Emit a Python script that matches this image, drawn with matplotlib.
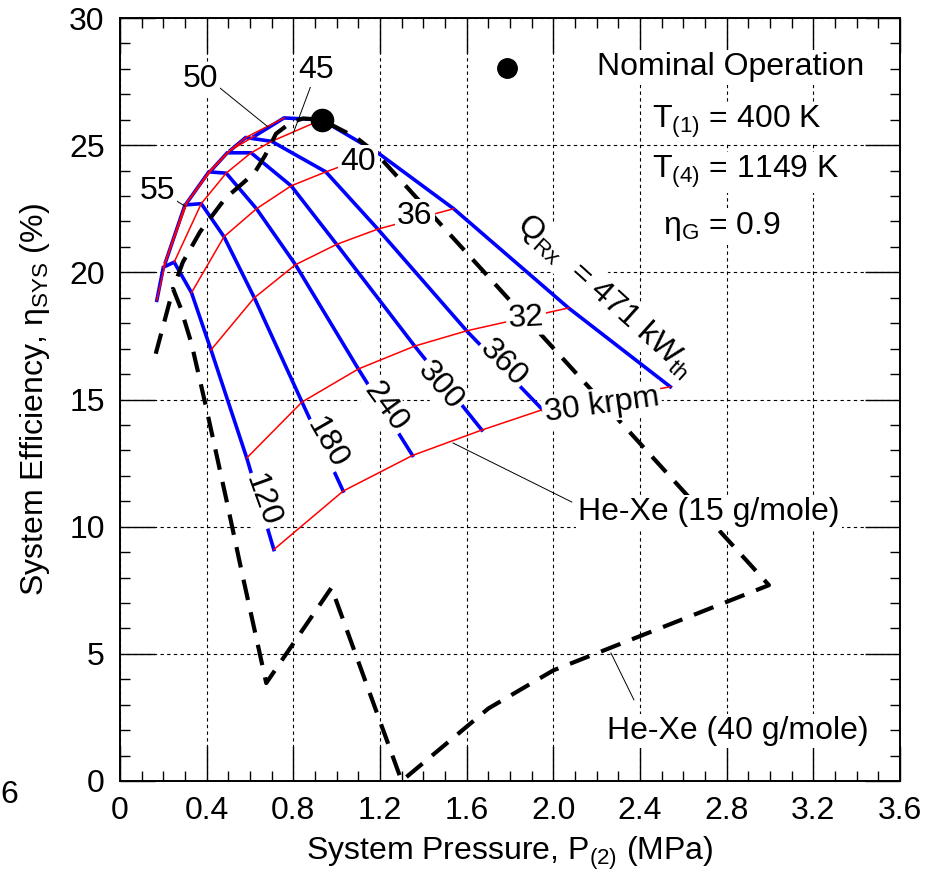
import matplotlib
matplotlib.use("Agg")
import matplotlib.pyplot as plt
from matplotlib.ticker import MultipleLocator, FuncFormatter

plt.rcParams["font.family"] = ["Liberation Sans", "DejaVu Sans"]
plt.rcParams["mathtext.fontset"] = "custom"
plt.rcParams["mathtext.rm"] = "Liberation Sans"
plt.rcParams["mathtext.it"] = "Liberation Sans"
plt.rcParams["mathtext.default"] = "regular"

# He-Xe 15 g/mole carpet: points at shaft speeds 55, 50, 45, 40, 36, 32, 30 krpm
speeds = [55, 50, 45, 40, 36, 32, 30]
powers = [120, 180, 240, 300, 360, 471]

press_120 = [0.17, 0.20, 0.25, 0.33, 0.42, 0.585, 0.71]
eff_120 = [18.9, 20.2, 20.4, 19.2, 16.95, 12.7, 9.1]
press_180 = [0.21, 0.30, 0.375, 0.48, 0.62, 0.84, 1.03]
eff_180 = [20.4, 22.65, 22.7, 21.4, 19.0, 14.9, 11.4]
press_240 = [0.31, 0.41, 0.49, 0.63, 0.81, 1.10, 1.35]
eff_240 = [22.75, 23.95, 23.9, 22.5, 20.3, 16.2, 12.8]
press_300 = [0.42, 0.495, 0.605, 0.79, 1.00, 1.36, 1.67]
eff_300 = [24.0, 24.7, 24.7, 23.4, 21.1, 17.1, 13.8]
press_360 = [0.51, 0.58, 0.70, 0.95, 1.19, 1.60, 1.95]
eff_360 = [24.8, 25.3, 25.15, 23.95, 21.7, 17.7, 14.6]
press_471 = [0.62, 0.757, 0.93, 1.19, 1.54, 2.07, 2.54]
eff_471 = [25.35, 26.07, 26.0, 24.7, 22.5, 18.6, 15.5]

# He-Xe 40 g/mole outline (dashed)
hexe40_press = [0.165, 0.245, 0.28, 0.33, 0.40, 0.49, 0.56, 0.675, 0.976, 1.30,
                1.70, 2.0, 2.995, 1.18, 1.09, 0.93, 0.845, 0.79, 0.72, 0.67,
                0.62, 0.485, 0.37, 0.29, 0.245]
hexe40_eff = [16.8, 19.35, 18.6, 17.2, 14.6, 11.1, 8.3, 3.85, 7.6, 0.0,
              2.85, 4.35, 7.7, 24.7, 25.3, 26.0, 26.05, 25.9, 25.45, 24.6,
              23.9, 22.9, 21.6, 20.4, 19.35]

nominal_point = (0.93, 26.0)
legend_point = (1.786, 28.04)

press_lines = [press_120, press_180, press_240, press_300, press_360, press_471]
eff_lines = [eff_120, eff_180, eff_240, eff_300, eff_360, eff_471]

fig = plt.figure(figsize=(9.34, 8.82), dpi=100)
ax = fig.add_axes([120 / 934, 101 / 882, 780 / 934, 763 / 882])

# blue: constant reactor power
for px, ey in zip(press_lines, eff_lines):
    ax.plot(px, ey, color="#0000ff", lw=2.6, zorder=2, solid_joinstyle="miter")

# red: constant shaft speed
for j in range(len(speeds)):
    xs = [p[j] for p in press_lines]
    ys = [e[j] for e in eff_lines]
    ax.plot(xs, ys, color="#ff0000", lw=1.1, zorder=2.5)

ax.plot(hexe40_press, hexe40_eff, color="black", lw=3, dashes=(5, 3), zorder=3)

ax.plot(*nominal_point, "o", color="black", ms=16, zorder=6)
ax.plot(*legend_point, "o", color="black", ms=14, zorder=6, clip_on=False)

box = dict(facecolor="white", edgecolor="none", pad=1.5)
fs = 23

# power labels along blue lines
ax.text(0.655, 11.05, "120", rotation=-70, ha="center", va="center",
        fontsize=fs, bbox=box, zorder=4)
ax.text(0.955, 13.29, "180", rotation=-60, ha="center", va="center",
        fontsize=fs, bbox=box, zorder=4)
ax.text(1.228, 14.71, "240", rotation=-54, ha="center", va="center",
        fontsize=fs, bbox=box, zorder=4)
ax.text(1.477, 15.53, "300", rotation=-49, ha="center", va="center",
        fontsize=fs, bbox=box, zorder=4)
ax.text(1.767, 16.44, "360", rotation=-45, ha="center", va="center",
        fontsize=fs, bbox=box, zorder=4)
ax.text(2.24, 19.1, r"Q$_{Rx}$  = 471 kW$_{th}$", rotation=-42,
        ha="center", va="center", fontsize=fs, bbox=box, zorder=4)

# speed labels along red lines
ax.text(2.224, 14.78, "30 krpm", rotation=8, ha="center", va="center",
        fontsize=fs, bbox=box, zorder=4)
ax.text(1.874, 18.2, "32", rotation=3, ha="center", va="center",
        fontsize=fs, bbox=box, zorder=4)
ax.text(1.361, 22.2, "36", ha="center", va="center", fontsize=fs,
        bbox=box, zorder=4)
ax.text(1.10, 24.34, "40", ha="center", va="center", fontsize=fs,
        bbox=box, zorder=4)
ax.text(0.905, 27.96, "45", ha="center", va="center", fontsize=fs,
        bbox=box, zorder=4)
ax.text(0.37, 27.6, "50", ha="center", va="center", fontsize=fs,
        bbox=box, zorder=4)
ax.text(0.171, 23.2, "55", ha="center", va="center", fontsize=fs,
        bbox=box, zorder=4)

# leader lines
ax.plot([0.225, 0.30], [23.0, 22.6], color="black", lw=0.7, zorder=3.5)
ax.plot([0.461, 0.683], [27.25, 25.72], color="black", lw=0.7, zorder=3.5)
ax.plot([0.886, 0.80], [27.45, 25.48], color="black", lw=0.7, zorder=3.5)
ax.plot([1.537, 2.085], [13.29, 10.97], color="black", lw=0.7, zorder=3.5)
ax.plot([2.266, 2.372], [5.03, 3.19], color="black", lw=0.7, zorder=3.5)

ax.text(2.113, 10.25, "He-Xe (15 g/mole)", ha="left", va="baseline",
        fontsize=fs, bbox=box, zorder=4)
ax.text(2.247, 1.65, "He-Xe (40 g/mole)", ha="left", va="baseline",
        fontsize=fs, bbox=box, zorder=4)

ax.text(2.20, 27.74, "Nominal Operation", ha="left", va="baseline",
        fontsize=fs, bbox=box, zorder=4)
ax.text(2.454, 25.67, r"T$_{(1)}$ = 400 K", ha="left", va="baseline",
        fontsize=fs, bbox=box, zorder=4)
ax.text(2.454, 23.70, r"T$_{(4)}$ = 1149 K", ha="left", va="baseline",
        fontsize=fs, bbox=box, zorder=4)
ax.text(2.507, 21.51, r"η$_G$ = 0.9", ha="left", va="baseline",
        fontsize=fs, bbox=box, zorder=4)

ax.set_xlim(0, 3.6)
ax.set_ylim(0, 30)
ax.xaxis.set_major_locator(MultipleLocator(0.4))
ax.xaxis.set_minor_locator(MultipleLocator(0.1))
ax.yaxis.set_major_locator(MultipleLocator(5))
ax.yaxis.set_minor_locator(MultipleLocator(1))
ax.xaxis.set_major_formatter(FuncFormatter(lambda v, p: "0" if abs(v) < 1e-9 else f"{v:.1f}"))
ax.yaxis.set_major_formatter(FuncFormatter(lambda v, p: f"{v:.0f}"))
ax.tick_params(which="both", direction="in", top=True, right=True, width=1.0)
ax.tick_params(which="major", length=25, labelsize=fs, pad=11)
ax.tick_params(which="minor", length=7.5)
ax.grid(which="major", color="black", linestyle=(0, (3, 3)), linewidth=0.8)
ax.set_axisbelow(True)
for s in ax.spines.values():
    s.set_linewidth(1.4)

ax.set_xlabel("System Pressure, P$_{(2)}$ (MPa)", fontsize=fs, labelpad=6)
ax.set_ylabel("System Efficiency, η$_{SYS}$ (%)", fontsize=fs, labelpad=12)

fig.text(0.0, 1 - 795 / 882, "6", ha="left", va="center", fontsize=fs)

fig.savefig("out.png", dpi=100)
